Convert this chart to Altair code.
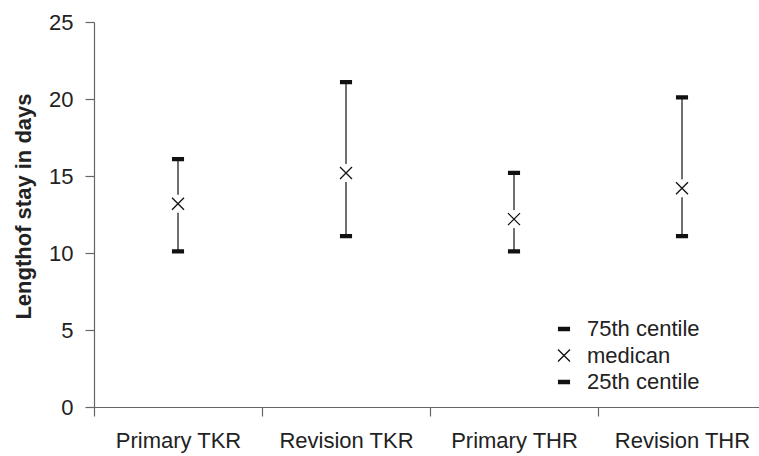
import altair as alt
import pandas as pd

categories = ["Primary TKR", "Revision TKR", "Primary THR", "Revision THR"]
p75 = [16.1, 21.1, 15.2, 20.1]
median = [13.2, 15.2, 12.2, 14.2]
p25 = [10.1, 11.1, 10.1, 11.1]
stat_names = ["75th centile", "medican", "25th centile"]
y_ticks = [0, 5, 10, 15, 20, 25]

FONT = "Liberation Sans"

wide = pd.DataFrame({"cat": categories, "p75": p75, "median": median, "p25": p25})
long_rows = []
for c, a, m, b in zip(categories, p75, median, p25):
    long_rows.append({"cat": c, "stat": stat_names[0], "v": a})
    long_rows.append({"cat": c, "stat": stat_names[1], "v": m})
    long_rows.append({"cat": c, "stat": stat_names[2], "v": b})
long = pd.DataFrame(long_rows)

cap_path = ("M-0.9,-0.25L0.9,-0.25L0.9,-0.083L-0.9,-0.083L-0.9,0.083"
            "L0.9,0.083L0.9,0.25L-0.9,0.25Z")
cross_path = "M-1,-1L1,1M-1,1L1,-1"
gap_path = "M-0.6,-1.5L0.6,-1.5L0.6,1.5L-0.6,1.5Z"

x_enc = alt.X("cat:N", sort=categories, title=None,
              scale=alt.Scale(domain=categories, range=[0, 672], paddingInner=0, paddingOuter=0),
              axis=alt.Axis(labelAngle=0, tickBand="extent", tickSize=9, labelPadding=14,
                            labelFontSize=22, labelFont=FONT, labelColor="#222",
                            domainColor="#666", tickColor="#666", domainWidth=1.2, tickWidth=1.2))
y_scale = alt.Scale(domain=[0, 25], nice=False, zero=True)
y_axis = alt.Axis(values=y_ticks, tickSize=9, labelPadding=12, labelFontSize=22, labelFont=FONT,
                  labelColor="#222", domainColor="#666", tickColor="#666", domainWidth=1.2,
                  tickWidth=1.2, grid=False, title="Lengthof stay in days", titleFont=FONT,
                  titleFontSize=22, titleFontWeight="bold", titleColor="#222",
                  titleX=-71, titleY=184, titleAlign="center", titleBaseline="middle")

rules = alt.Chart(wide).mark_rule(color="#222", strokeWidth=1.3).encode(
    x=x_enc,
    y=alt.Y("p25:Q", scale=y_scale, axis=y_axis),
    y2="p75:Q",
)

gaps = alt.Chart(wide).mark_point(shape=gap_path, filled=True, color="white", size=144, opacity=1).encode(
    x=alt.X("cat:N", sort=categories),
    y=alt.Y("median:Q"),
)

points = alt.Chart(long).mark_point(filled=False, color="#111", strokeWidth=1.3,
                                    size=144, opacity=1).encode(
    x=alt.X("cat:N", sort=categories),
    y=alt.Y("v:Q"),
    shape=alt.Shape("stat:N", sort=stat_names,
                    scale=alt.Scale(domain=stat_names, range=[cap_path, cross_path, cap_path]),
                    legend=alt.Legend(title=None, orient="none", legendX=459, legendY=296,
                                      padding=0, labelFontSize=22, labelFont=FONT,
                                      labelColor="#222", labelOffset=12, rowPadding=4.5,
                                      symbolSize=144, symbolStrokeColor="#111",
                                      symbolStrokeWidth=1.3, symbolOpacity=1)),
)

chart = alt.layer(rules, gaps, points).properties(
    width=665, height=385,
    autosize=alt.AutoSizeParams(type="none"),
    padding={"left": 94, "top": 22, "right": 0, "bottom": 49},
    background="white",
).configure_view(stroke=None)

chart.save("out.html", embed_options={"renderer": "svg", "actions": False})
